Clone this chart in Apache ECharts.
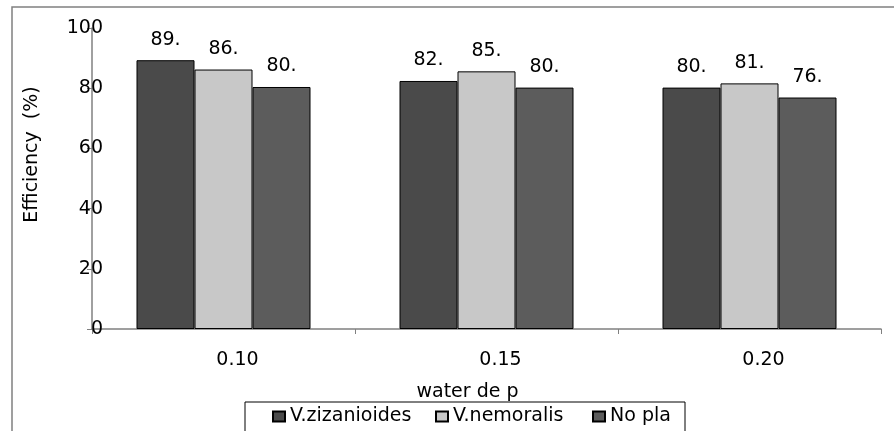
<!DOCTYPE html>
<html>
<head>
<meta charset="UTF-8">
<title>Efficiency</title>
<script src="https://cdn.jsdelivr.net/npm/echarts@6/dist/echarts.min.js"></script>
<style>
    body { margin: 0; padding: 0; background: #fff; }
    #main { width: 894px; height: 431px; }
</style>
</head>
<body>
<div id="main"></div>
<script>
    // data
    var depths = ['0.10', '0.15', '0.20'];
    var seriesNames = ['V.zizanioides', 'V.nemoralis', 'No pla'];
    var zizanioides = [89.3, 82.4, 80.2];
    var nemoralis = [86.2, 85.6, 81.6];
    var noPlant = [80.4, 80.2, 76.9];
    var yTicks = [0, 20, 40, 60, 80, 100];

    var font = 'DejaVu Sans';
    var fs = 19;

    function barSeries(name, data, color) {
        return {
            name: name,
            type: 'bar',
            data: data,
            barWidth: 58,
            barGap: '0%',
            itemStyle: { color: color, borderColor: '#000', borderWidth: 1 },
            label: {
                show: true,
                position: 'top',
                distance: 11,
                color: '#000',
                fontFamily: font,
                fontSize: fs,
                formatter: function (p) { return Math.floor(p.value) + '.'; }
            }
        };
    }

    // one legend per entry so the spacing can follow the original
    var legendLeft = [272, 435, 592];
    var legends = seriesNames.map(function (n, i) {
        return {
            left: legendLeft[i],
            top: 407,
            padding: 0,
            itemWidth: 12,
            itemHeight: 10,
            icon: 'rect',
            textStyle: { fontFamily: font, fontSize: fs, color: '#000' },
            data: [n]
        };
    });

    var myChart = echarts.init(document.getElementById('main'));
    var option = {
        animation: false,
        backgroundColor: '#fff',
        grid: { left: 92, right: 13, top: 28, bottom: 102 },
        legend: legends,
        xAxis: {
            type: 'category',
            data: depths,
            name: 'water de p',
            nameLocation: 'middle',
            nameGap: 54,
            nameTextStyle: { fontFamily: font, fontSize: fs, color: '#000', padding: [0, 38, 0, 0] },
            axisLine: { lineStyle: { color: '#808080', width: 1.5 } },
            axisTick: { show: true, length: 5, lineStyle: { color: '#808080' } },
            axisLabel: { fontFamily: font, fontSize: fs, color: '#000', margin: 22, padding: [0, 0, 0, 28] }
        },
        yAxis: {
            type: 'value',
            min: yTicks[0],
            max: yTicks[yTicks.length - 1],
            interval: 20,
            name: 'Efficiency  (%)',
            nameLocation: 'middle',
            nameGap: 50,
            nameTextStyle: { fontFamily: font, fontSize: fs, color: '#000', padding: [0, 0, 0, 48] },
            splitLine: { show: false },
            axisLine: { show: true, lineStyle: { color: '#808080', width: 1.5 } },
            axisTick: { show: true, length: 5, lineStyle: { color: '#808080' } },
            axisLabel: { fontFamily: font, fontSize: fs, color: '#000', margin: -11 }
        },
        graphic: [
            {
                type: 'polyline',
                shape: { points: [[12, 431], [12, 7], [894, 7]] },
                style: { stroke: '#808080', lineWidth: 1.5, fill: null },
                z: -1
            },
            {
                type: 'rect',
                shape: { x: 245, y: 402, width: 440, height: 40 },
                style: { stroke: '#000', lineWidth: 1, fill: null },
                z: -1
            }
        ],
        series: [
            barSeries(seriesNames[0], zizanioides, '#4a4a4a'),
            barSeries(seriesNames[1], nemoralis, '#c8c8c8'),
            barSeries(seriesNames[2], noPlant, '#5c5c5c')
        ]
    };
    myChart.setOption(option);
</script>
</body>
</html>
